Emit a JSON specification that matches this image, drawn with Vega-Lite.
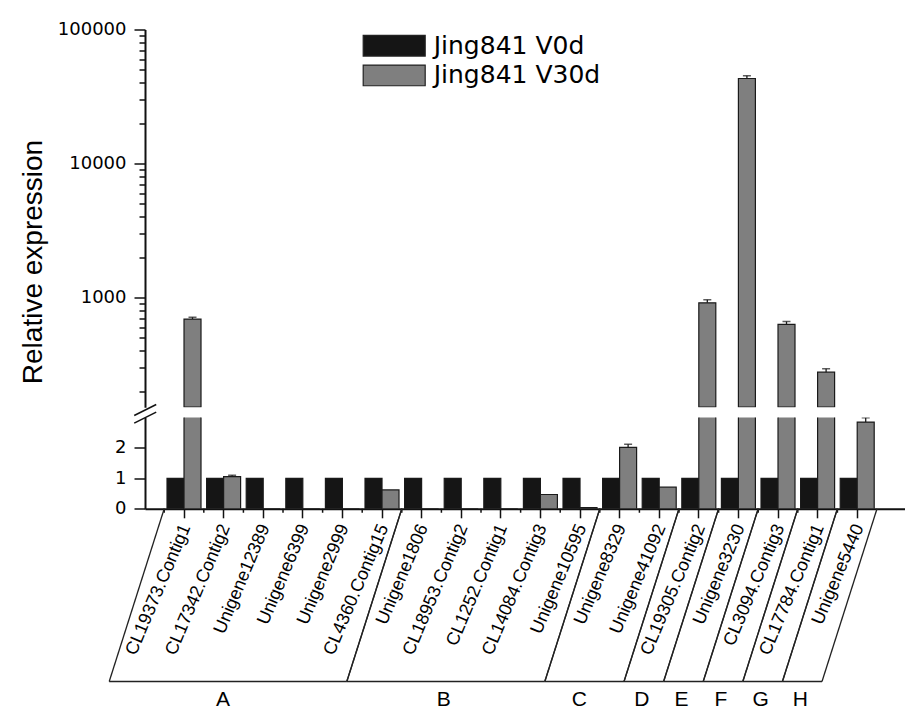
{
  "$schema": "https://vega.github.io/schema/vega-lite/v6.json",
  "autosize": {"type": "pad"},
  "padding": {"left": 19, "top": 20.5, "right": 0, "bottom": 0},
  "background": "white",
  "datasets": {
    "bars": [
      {"gene": "CL19373.Contig1", "series": "Jing841 V0d", "value": 1},
      {"gene": "CL19373.Contig1", "series": "Jing841 V30d", "value": 690, "hi": 712},
      {"gene": "CL17342.Contig2", "series": "Jing841 V0d", "value": 1},
      {"gene": "CL17342.Contig2", "series": "Jing841 V30d", "value": 1.06, "hi": 1.1},
      {"gene": "Unigene12389", "series": "Jing841 V0d", "value": 1},
      {"gene": "Unigene12389", "series": "Jing841 V30d", "value": 0},
      {"gene": "Unigene6399", "series": "Jing841 V0d", "value": 1},
      {"gene": "Unigene6399", "series": "Jing841 V30d", "value": 0},
      {"gene": "Unigene2999", "series": "Jing841 V0d", "value": 1},
      {"gene": "Unigene2999", "series": "Jing841 V30d", "value": 0},
      {"gene": "CL4360.Contig15", "series": "Jing841 V0d", "value": 1},
      {"gene": "CL4360.Contig15", "series": "Jing841 V30d", "value": 0.62},
      {"gene": "Unigene1806", "series": "Jing841 V0d", "value": 1},
      {"gene": "Unigene1806", "series": "Jing841 V30d", "value": 0},
      {"gene": "CL18953.Contig2", "series": "Jing841 V0d", "value": 1},
      {"gene": "CL18953.Contig2", "series": "Jing841 V30d", "value": 0},
      {"gene": "CL1252.Contig1", "series": "Jing841 V0d", "value": 1},
      {"gene": "CL1252.Contig1", "series": "Jing841 V30d", "value": 0},
      {"gene": "CL14084.Contig3", "series": "Jing841 V0d", "value": 1},
      {"gene": "CL14084.Contig3", "series": "Jing841 V30d", "value": 0.47},
      {"gene": "Unigene10595", "series": "Jing841 V0d", "value": 1},
      {"gene": "Unigene10595", "series": "Jing841 V30d", "value": 0.04},
      {"gene": "Unigene8329", "series": "Jing841 V0d", "value": 1},
      {"gene": "Unigene8329", "series": "Jing841 V30d", "value": 2.02, "hi": 2.12},
      {"gene": "Unigene41092", "series": "Jing841 V0d", "value": 1},
      {"gene": "Unigene41092", "series": "Jing841 V30d", "value": 0.71},
      {"gene": "CL19305.Contig2", "series": "Jing841 V0d", "value": 1},
      {"gene": "CL19305.Contig2", "series": "Jing841 V30d", "value": 913, "hi": 960},
      {"gene": "Unigene3230", "series": "Jing841 V0d", "value": 1},
      {"gene": "Unigene3230", "series": "Jing841 V30d", "value": 43070, "hi": 45080},
      {"gene": "CL3094.Contig3", "series": "Jing841 V0d", "value": 1},
      {"gene": "CL3094.Contig3", "series": "Jing841 V30d", "value": 629, "hi": 662},
      {"gene": "CL17784.Contig1", "series": "Jing841 V0d", "value": 1},
      {"gene": "CL17784.Contig1", "series": "Jing841 V30d", "value": 277, "hi": 294},
      {"gene": "Unigene5440", "series": "Jing841 V0d", "value": 1},
      {"gene": "Unigene5440", "series": "Jing841 V30d", "value": 2.85, "hi": 2.99}
    ],
    "groups": [
      {"group": "A", "first": "CL19373.Contig1", "last": "CL4360.Contig15", "center": "Unigene6399", "n": 6},
      {"group": "B", "first": "Unigene1806", "last": "Unigene10595", "center": "CL1252.Contig1", "n": 5},
      {"group": "C", "first": "Unigene8329", "last": "Unigene41092", "center": "Unigene41092", "n": 2},
      {"group": "D", "first": "CL19305.Contig2", "last": "CL19305.Contig2", "center": "CL19305.Contig2", "n": 1},
      {"group": "E", "first": "Unigene3230", "last": "Unigene3230", "center": "Unigene3230", "n": 1},
      {"group": "F", "first": "CL3094.Contig3", "last": "CL3094.Contig3", "center": "CL3094.Contig3", "n": 1},
      {"group": "G", "first": "CL17784.Contig1", "last": "CL17784.Contig1", "center": "CL17784.Contig1", "n": 1},
      {"group": "H", "first": "Unigene5440", "last": "Unigene5440", "center": "Unigene5440", "n": 1}
    ]
  },
  "bounds": "flush",
  "spacing": 10,
  "resolve": {
    "scale": {"x": "independent", "y": "independent", "color": "independent"},
    "legend": {"color": "independent"}
  },
  "vconcat": [
    {
      "width": 760,
      "height": 377.7,
      "data": {"name": "bars"},
      "transform": [{"filter": "datum.value > 151.8"}],
      "layer": [
        {
          "mark": {"type": "bar", "stroke": "#1a1a1a", "strokeWidth": 1.2, "clip": true},
          "encoding": {
            "x": {
              "field": "gene", "type": "nominal", "title": null, "axis": null,
              "scale": {
                "domain": ["CL19373.Contig1", "CL17342.Contig2", "Unigene12389", "Unigene6399", "Unigene2999", "CL4360.Contig15", "Unigene1806", "CL18953.Contig2", "CL1252.Contig1", "CL14084.Contig3", "Unigene10595", "Unigene8329", "Unigene41092", "CL19305.Contig2", "Unigene3230", "CL3094.Contig3", "CL17784.Contig1", "Unigene5440"],
                "paddingInner": 0, "paddingOuter": 0.596, "align": 0.407
              }
            },
            "xOffset": {"field": "series", "type": "nominal", "scale": {"domain": ["Jing841 V0d", "Jing841 V30d"], "paddingInner": 0, "paddingOuter": 0.165}},
            "y": {
              "field": "value", "type": "quantitative", "title": "Relative expression",
              "scale": {"type": "log", "domain": [151.8, 100000], "nice": false},
              "axis": {
                "values": [200, 300, 400, 500, 600, 700, 800, 900, 1000, 2000, 3000, 4000, 5000, 6000, 7000, 8000, 9000, 10000, 20000, 30000, 40000, 50000, 60000, 70000, 80000, 90000, 100000],
                "format": "d",
                "labelExpr": "indexof([1000,10000,100000], datum.value) >= 0 ? datum.label : ''",
                "tickSize": {"condition": {"test": "indexof([1000,10000,100000], datum.value) >= 0", "value": 11}, "value": 6},
                "title": "Relative expression",
                "titleX": -104, "titleY": 232, "titleAngle": 270, "titleAlign": "center", "titleBaseline": "alphabetic",
                "titleFont": "Liberation Sans", "titleFontSize": 28, "titleFontWeight": "normal", "titleColor": "#000",
                "labelFont": "DejaVu Sans", "labelFontSize": 18, "labelPadding": 8, "labelColor": "#000",
                "domainWidth": 2, "domainColor": "#111", "tickWidth": 1.5, "tickColor": "#111",
                "labelOverlap": false, "grid": false
              }
            },
            "y2": {"datum": 151.8},
            "color": {
              "field": "series", "type": "nominal",
              "scale": {"domain": ["Jing841 V0d", "Jing841 V30d"], "range": ["#151515", "#7f7f7f"]},
              "legend": {
                "title": null, "orient": "none", "legendX": 236.7, "legendY": 3.7,
                "symbolType": "M-3,-1H3V1H-3Z", "symbolSize": 427,
                "symbolStrokeColor": "#222", "symbolStrokeWidth": 1.2,
                "labelFont": "DejaVu Sans", "labelFontSize": 25, "labelOffset": 27, "labelColor": "#000", "labelLimit": 0,
                "rowPadding": 2.7
              }
            }
          }
        },
        {
          "transform": [{"filter": "isValid(datum.hi)"}],
          "mark": {"type": "rule", "color": "#1a1a1a", "strokeWidth": 1.3, "clip": true},
          "encoding": {
            "x": {"field": "gene", "type": "nominal", "title": null},
            "xOffset": {"field": "series", "type": "nominal"},
            "y": {"field": "value", "type": "quantitative"},
            "y2": {"field": "hi"}
          }
        },
        {
          "transform": [{"filter": "isValid(datum.hi)"}],
          "mark": {"type": "tick", "color": "#1a1a1a", "thickness": 1.5, "size": 8, "clip": true},
          "encoding": {
            "x": {"field": "gene", "type": "nominal", "title": null},
            "xOffset": {"field": "series", "type": "nominal"},
            "y": {"field": "hi", "type": "quantitative", "title": "Relative expression"}
          }
        }
      ]
    },
    {
      "width": 760,
      "height": 91.3,
      "layer": [
        {
          "data": {"name": "bars"},
          "mark": {"type": "bar", "stroke": "#1a1a1a", "strokeWidth": 1.2, "clip": true},
          "encoding": {
            "x": {
              "field": "gene", "type": "nominal", "title": null,
              "scale": {
                "domain": ["CL19373.Contig1", "CL17342.Contig2", "Unigene12389", "Unigene6399", "Unigene2999", "CL4360.Contig15", "Unigene1806", "CL18953.Contig2", "CL1252.Contig1", "CL14084.Contig3", "Unigene10595", "Unigene8329", "Unigene41092", "CL19305.Contig2", "Unigene3230", "CL3094.Contig3", "CL17784.Contig1", "Unigene5440"],
                "paddingInner": 0, "paddingOuter": 0.596, "align": 0.407
              },
              "axis": {
                "title": null, "labelAngle": -67, "tickSize": 9, "labelPadding": 7, "labelOffset": 2,
                "labelFont": "Liberation Sans", "labelFontSize": 18, "labelColor": "#000",
                "labelOverlap": false, "labelBound": false, "labelLimit": 0,
                "domainWidth": 2, "domainColor": "#111", "tickWidth": 1.5, "tickColor": "#111", "grid": false
              }
            },
            "xOffset": {"field": "series", "type": "nominal", "scale": {"domain": ["Jing841 V0d", "Jing841 V30d"], "paddingInner": 0, "paddingOuter": 0.165}},
            "y": {
              "field": "value", "type": "quantitative", "title": null,
              "scale": {"domain": [0, 3], "nice": false, "zero": true},
              "axis": {
                "title": null,
                "values": [0, 0.5, 1, 1.5, 2, 2.5],
                "labelExpr": "datum.value % 1 == 0 ? datum.label : ''",
                "tickSize": {"condition": {"test": "datum.value % 1 == 0", "value": 11}, "value": 6},
                "labelFont": "DejaVu Sans", "labelFontSize": 18, "labelPadding": 8, "labelColor": "#000",
                "domainWidth": 2, "domainColor": "#111", "tickWidth": 1.5, "tickColor": "#111",
                "labelOverlap": false, "grid": false
              }
            },
            "color": {
              "field": "series", "type": "nominal",
              "scale": {"domain": ["Jing841 V0d", "Jing841 V30d"], "range": ["#151515", "#7f7f7f"]},
              "legend": null
            }
          }
        },
        {
          "data": {"name": "bars"},
          "transform": [{"filter": "isValid(datum.hi)"}],
          "mark": {"type": "rule", "color": "#1a1a1a", "strokeWidth": 1.3, "clip": true},
          "encoding": {
            "x": {"field": "gene", "type": "nominal", "title": null},
            "xOffset": {"field": "series", "type": "nominal"},
            "y": {"field": "value", "type": "quantitative", "title": null},
            "y2": {"field": "hi"}
          }
        },
        {
          "data": {"name": "bars"},
          "transform": [{"filter": "isValid(datum.hi)"}],
          "mark": {"type": "tick", "color": "#1a1a1a", "thickness": 1.5, "size": 8, "clip": true},
          "encoding": {
            "x": {"field": "gene", "type": "nominal", "title": null},
            "xOffset": {"field": "series", "type": "nominal"},
            "y": {"field": "hi", "type": "quantitative", "title": null}
          }
        },
        {
          "data": {"name": "bars"},
          "transform": [{"filter": "datum.series == 'Jing841 V0d'"}],
          "mark": {"type": "rule", "color": "#111", "strokeWidth": 1.5},
          "encoding": {
            "x": {"field": "gene", "type": "nominal", "bandPosition": 0, "title": null},
            "y": {"datum": 0},
            "y2": {"datum": -0.13}
          }
        },
        {
          "data": {"name": "groups"},
          "mark": {"type": "rule", "color": "#222", "strokeWidth": 1.3, "x2Offset": -55},
          "encoding": {
            "x": {"field": "first", "type": "nominal", "bandPosition": 0, "title": null},
            "x2": {"field": "first", "bandPosition": 0},
            "y": {"datum": 0},
            "y2": {"datum": -5.675}
          }
        },
        {
          "data": {"name": "groups"},
          "mark": {"type": "rule", "color": "#222", "strokeWidth": 1.3, "x2Offset": -55},
          "encoding": {
            "x": {"field": "last", "type": "nominal", "bandPosition": 1, "title": null},
            "x2": {"field": "last", "bandPosition": 1},
            "y": {"datum": 0},
            "y2": {"datum": -5.675}
          }
        },
        {
          "data": {"name": "groups"},
          "mark": {"type": "rule", "color": "#222", "strokeWidth": 1.3, "xOffset": -55, "x2Offset": -55},
          "encoding": {
            "x": {"field": "first", "type": "nominal", "bandPosition": 0, "title": null},
            "x2": {"field": "last", "bandPosition": 1},
            "y": {"datum": -5.675}
          }
        },
        {
          "data": {"name": "groups"},
          "transform": [{"filter": "datum.n % 2 == 1"}],
          "mark": {"type": "text", "font": "Liberation Sans", "fontSize": 21, "baseline": "alphabetic", "align": "center", "dx": -57, "color": "#000"},
          "encoding": {
            "x": {"field": "center", "type": "nominal", "bandPosition": 0.5, "title": null},
            "y": {"datum": -6.464},
            "text": {"field": "group"}
          }
        },
        {
          "data": {"name": "groups"},
          "transform": [{"filter": "datum.n % 2 == 0"}],
          "mark": {"type": "text", "font": "Liberation Sans", "fontSize": 21, "baseline": "alphabetic", "align": "center", "dx": -60, "color": "#000"},
          "encoding": {
            "x": {"field": "center", "type": "nominal", "bandPosition": 0, "title": null},
            "y": {"datum": -6.464},
            "text": {"field": "group"}
          }
        },
        {
          "data": {"values": [{}]},
          "mark": {"type": "rule", "color": "#111", "strokeWidth": 1.5, "xOffset": -30, "x2Offset": -8},
          "encoding": {
            "x": {"datum": "CL19373.Contig1", "bandPosition": 0},
            "x2": {"datum": "CL19373.Contig1", "bandPosition": 0},
            "y": {"datum": 3.066},
            "y2": {"datum": 3.427}
          }
        },
        {
          "data": {"values": [{}]},
          "mark": {"type": "rule", "color": "#111", "strokeWidth": 1.5, "xOffset": -30, "x2Offset": -8},
          "encoding": {
            "x": {"datum": "CL19373.Contig1", "bandPosition": 0},
            "x2": {"datum": "CL19373.Contig1", "bandPosition": 0},
            "y": {"datum": 2.813},
            "y2": {"datum": 3.175}
          }
        }
      ]
    }
  ],
  "config": {
    "view": {"stroke": null},
    "font": "Liberation Sans"
  }
}
